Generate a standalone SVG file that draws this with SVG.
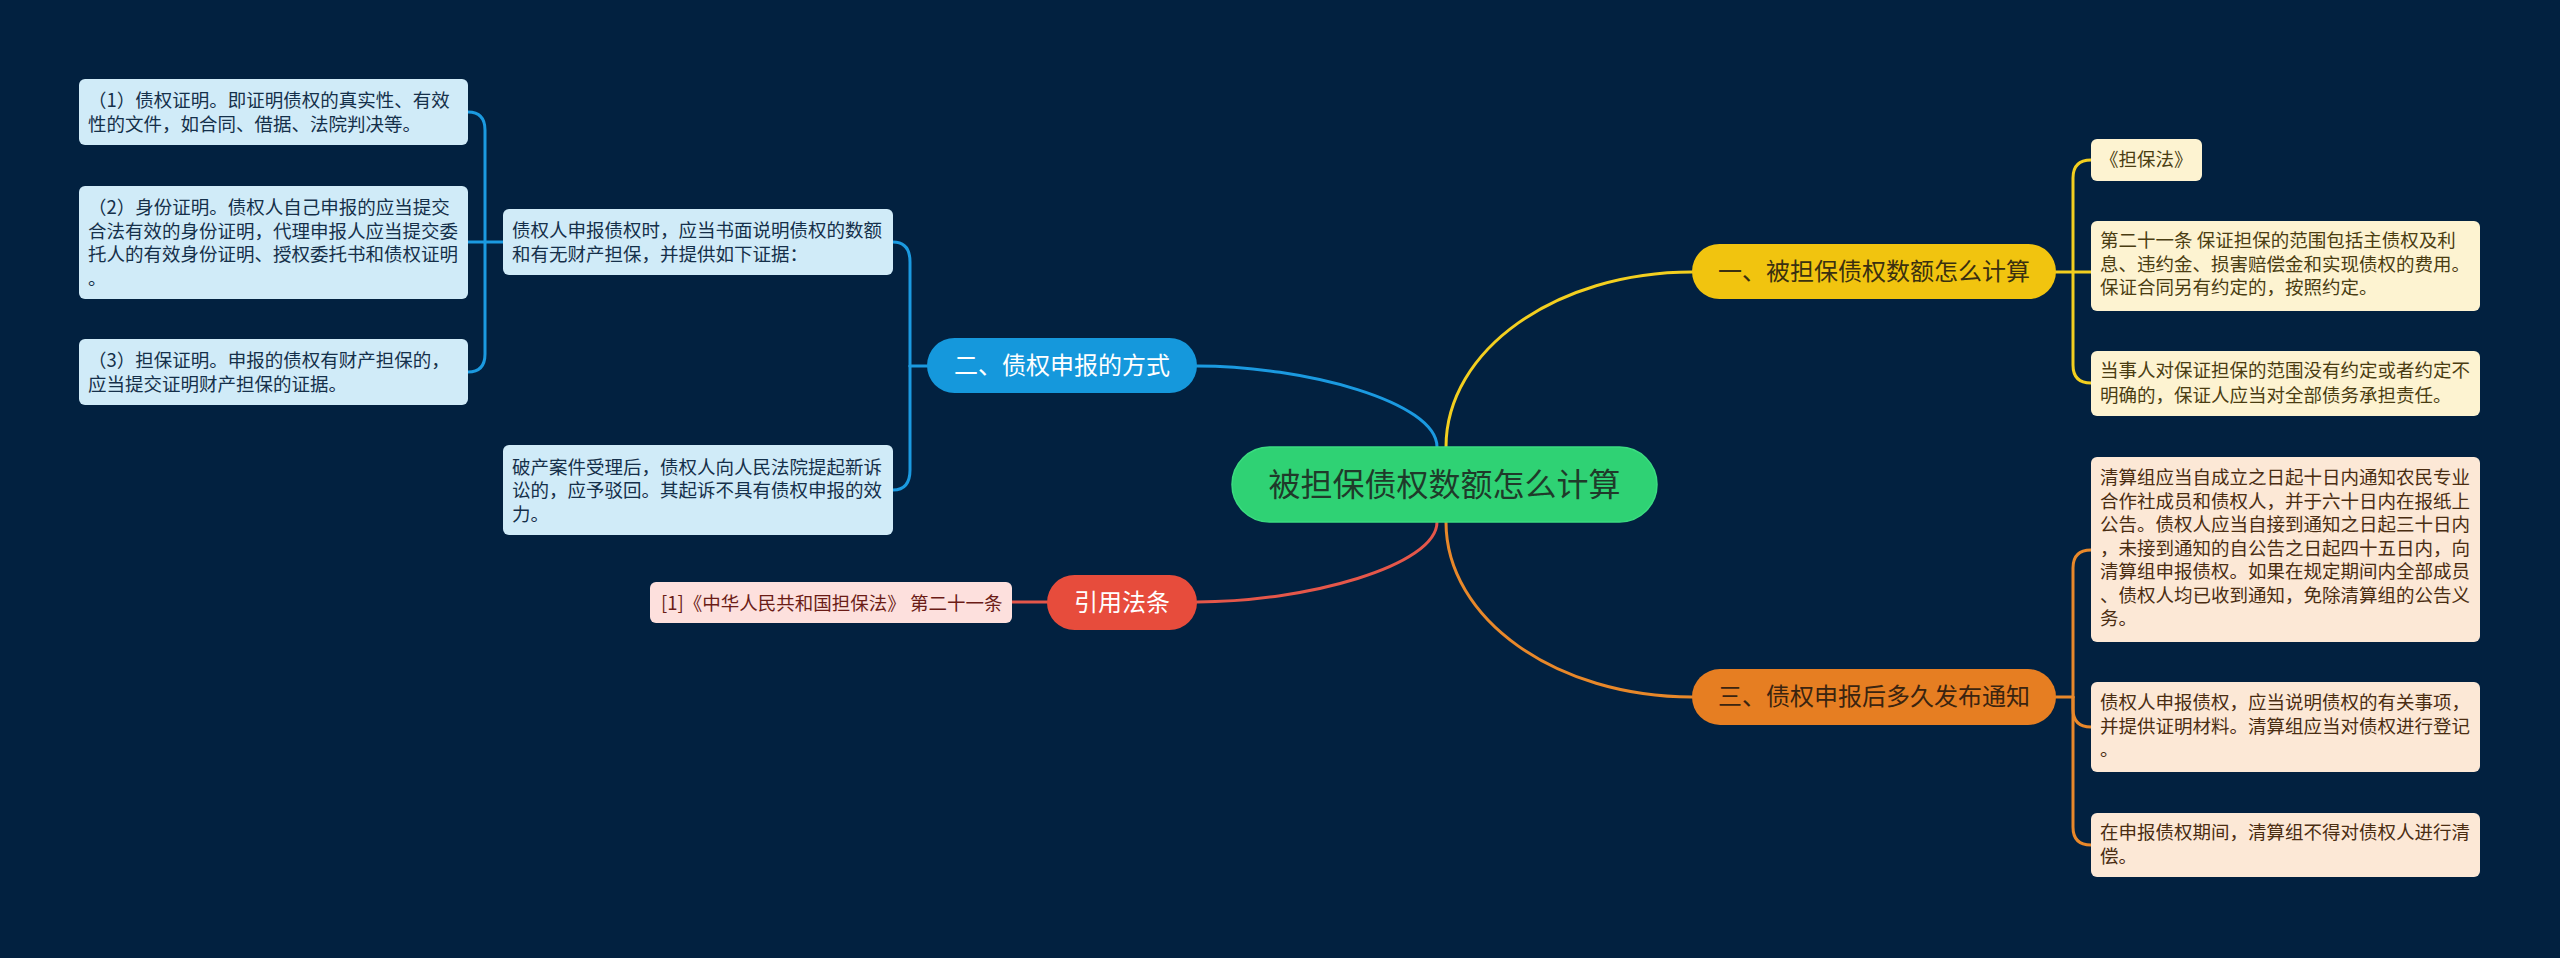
<svg xmlns="http://www.w3.org/2000/svg" width="2560" height="958" viewBox="0 0 2560 958">
<style>
text{font-family:"Noto Sans CJK SC","Noto Sans",sans-serif;}
.leaf{font-size:18.5px;}
.lb rect{fill:#d0ebf8;}
.lb text{fill:#15304a;}
.ly rect{fill:#fdf3d1;}
.ly text{fill:#4a3d12;}
.lo rect{fill:#fce8d6;}
.lo text{fill:#4a2d12;}
.lr rect{fill:#fde0dd;}
.lr text{fill:#6b1c16;}
.br{font-size:24px;text-anchor:middle;}
.c{fill:none;stroke-width:3;stroke-linecap:round;}
.cb{stroke:#1b9ae0;}
.cy{stroke:#f3cf1f;}
.co{stroke:#e8882a;}
.cr{stroke:#e5574a;}
</style>
<rect x="0" y="0" width="2560" height="958" fill="#022140"/>

<g id="connectors">
  <path class="c cb" d="M1437,447 C1437,402 1305,366 1197,366"/>
  <path class="c cy" d="M1446,447 C1446,350 1556,272 1692,272"/>
  <path class="c cr" d="M1437,522 C1437,566 1305,602 1197,602"/>
  <path class="c co" d="M1446,522 C1446,619 1556,697 1692,697"/>
  <!-- blue right bracket -->
  <path class="c cb" d="M927,366 L910,366"/>
  <path class="c cb" d="M910,366 L910,262 Q910,242 893,242"/>
  <path class="c cb" d="M910,366 L910,470 Q910,490 893,490"/>
  <!-- blue left bracket -->
  <path class="c cb" d="M503,242 L468,242"/>
  <path class="c cb" d="M485,242 L485,130 Q485,112 468,112"/>
  <path class="c cb" d="M485,242 L485,354 Q485,372 468,372"/>
  <!-- red -->
  <path class="c cr" d="M1047,602 L1012,602"/>
  <!-- yellow bracket -->
  <path class="c cy" d="M2056,272 L2091,272"/>
  <path class="c cy" d="M2073,272 L2073,178 Q2073,160 2091,160"/>
  <path class="c cy" d="M2073,272 L2073,365 Q2073,383 2091,383"/>
  <!-- orange bracket -->
  <path class="c co" d="M2056,697 L2073,697"/>
  <path class="c co" d="M2073,697 L2073,568 Q2073,550 2091,550"/>
  <path class="c co" d="M2073,697 L2073,709 Q2073,727 2091,727"/>
  <path class="c co" d="M2073,697 L2073,827 Q2073,845 2091,845"/>
</g>

<g id="root">
  <rect x="1232" y="447" width="425" height="75" rx="37.5" fill="#2fd274" stroke="#3bdc80" stroke-width="1.5"/>
  <text x="1444.5" y="496" font-size="32" text-anchor="middle" fill="#1f3a2a">被担保债权数额怎么计算</text>
</g>

<g id="branch1">
  <rect x="1692" y="244" width="364" height="55" rx="27.5" fill="#f1c40f"/>
  <text class="br" x="1874" y="280" fill="#3a3010">一、被担保债权数额怎么计算</text>
</g>
<g id="branch2">
  <rect x="927" y="338" width="270" height="55" rx="27.5" fill="#1598dc"/>
  <text class="br" x="1062" y="374" fill="#ffffff">二、债权申报的方式</text>
</g>
<g id="branch3">
  <rect x="1692" y="669" width="364" height="56" rx="28" fill="#e67e22"/>
  <text class="br" x="1874" y="705" fill="#3a2410">三、债权申报后多久发布通知</text>
</g>
<g id="branch4">
  <rect x="1047" y="575" width="150" height="55" rx="27.5" fill="#e74c3c"/>
  <text class="br" x="1122" y="611" fill="#ffffff">引用法条</text>
</g>

<g id="b2-main" class="lb leaf">
  <rect x="503" y="209" width="390" height="66" rx="6"/>
  <text x="512" y="237">债权人申报债权时，应当书面说明债权的数额</text>
  <text x="512" y="260.5">和有无财产担保，并提供如下证据：</text>
</g>
<g id="b2-e1" class="lb leaf">
  <rect x="79" y="79" width="389" height="66" rx="6"/>
  <text x="88" y="107">（1）债权证明。即证明债权的真实性、有效</text>
  <text x="88" y="130.5">性的文件，如合同、借据、法院判决等。</text>
</g>
<g id="b2-e2" class="lb leaf">
  <rect x="79" y="186" width="389" height="113" rx="6"/>
  <text x="88" y="214">（2）身份证明。债权人自己申报的应当提交</text>
  <text x="88" y="237.5">合法有效的身份证明，代理申报人应当提交委</text>
  <text x="88" y="261">托人的有效身份证明、授权委托书和债权证明</text>
  <text x="88" y="284.5">。</text>
</g>
<g id="b2-e3" class="lb leaf">
  <rect x="79" y="339" width="389" height="66" rx="6"/>
  <text x="88" y="367">（3）担保证明。申报的债权有财产担保的，</text>
  <text x="88" y="390.5">应当提交证明财产担保的证据。</text>
</g>
<g id="b2-lit" class="lb leaf">
  <rect x="503" y="445" width="390" height="90" rx="6"/>
  <text x="512" y="473.5">破产案件受理后，债权人向人民法院提起新诉</text>
  <text x="512" y="497">讼的，应予驳回。其起诉不具有债权申报的效</text>
  <text x="512" y="520.5">力。</text>
</g>

<g id="b1-law" class="ly leaf">
  <rect x="2091" y="139" width="111" height="42" rx="6"/>
  <text x="2100" y="166">《担保法》</text>
</g>
<g id="b1-art" class="ly leaf">
  <rect x="2091" y="221" width="389" height="90" rx="6"/>
  <text x="2100" y="247">第二十一条 保证担保的范围包括主债权及利</text>
  <text x="2100" y="270.5">息、违约金、损害赔偿金和实现债权的费用。</text>
  <text x="2100" y="294">保证合同另有约定的，按照约定。</text>
</g>
<g id="b1-note" class="ly leaf">
  <rect x="2091" y="351" width="389" height="65" rx="6"/>
  <text x="2100" y="377">当事人对保证担保的范围没有约定或者约定不</text>
  <text x="2100" y="401.5">明确的，保证人应当对全部债务承担责任。</text>
</g>

<g id="b3-n1" class="lo leaf">
  <rect x="2091" y="457" width="389" height="185" rx="6"/>
  <text x="2100" y="484">清算组应当自成立之日起十日内通知农民专业</text>
  <text x="2100" y="507.5">合作社成员和债权人，并于六十日内在报纸上</text>
  <text x="2100" y="531">公告。债权人应当自接到通知之日起三十日内</text>
  <text x="2100" y="554.5">，未接到通知的自公告之日起四十五日内，向</text>
  <text x="2100" y="578">清算组申报债权。如果在规定期间内全部成员</text>
  <text x="2100" y="601.5">、债权人均已收到通知，免除清算组的公告义</text>
  <text x="2100" y="625">务。</text>
</g>
<g id="b3-n2" class="lo leaf">
  <rect x="2091" y="682" width="389" height="90" rx="6"/>
  <text x="2100" y="709">债权人申报债权，应当说明债权的有关事项，</text>
  <text x="2100" y="732.5">并提供证明材料。清算组应当对债权进行登记</text>
  <text x="2100" y="756">。</text>
</g>
<g id="b3-n3" class="lo leaf">
  <rect x="2091" y="813" width="389" height="64" rx="6"/>
  <text x="2100" y="839">在申报债权期间，清算组不得对债权人进行清</text>
  <text x="2100" y="862.5">偿。</text>
</g>

<g id="b4-ref" class="lr">
  <rect x="650" y="582" width="362" height="41" rx="6"/>
  <text x="661" y="610" font-size="18.5">[1]《中华人民共和国担保法》 第二十一条</text>
</g>
</svg>
